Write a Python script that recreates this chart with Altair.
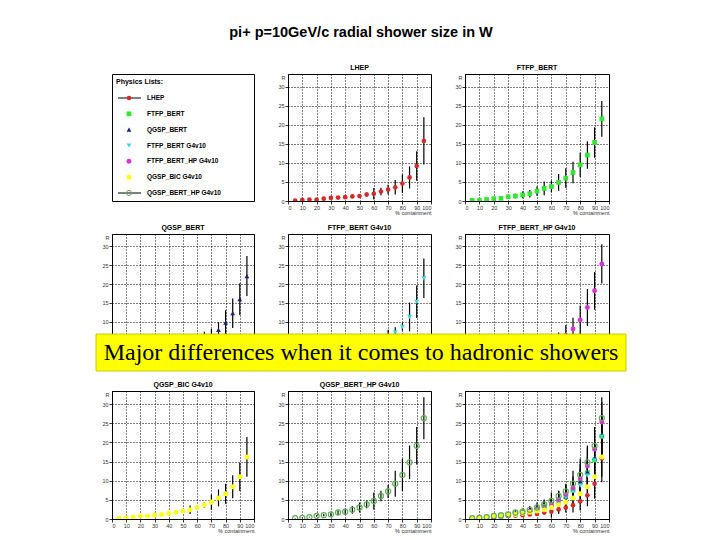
import altair as alt
import pandas as pd

# ---------------- data ----------------
containment = [5, 10, 15, 20, 25, 30, 35, 40, 45, 50, 55, 60, 65, 70, 75, 80, 85, 90, 95]

series_names = ["LHEP", "FTFP_BERT", "QGSP_BERT", "FTFP_BERT G4v10",
                "FTFP_BERT_HP G4v10", "QGSP_BIC G4v10", "QGSP_BERT_HP G4v10"]
series_colors = ["#d42a2a", "#33e633", "#1c237f", "#3ad8dc", "#d435d4", "#ffff1a", "#5fae57"]
series_shapes = ["circle", "square", "triangle-up", "triangle-down", "circle", "circle", "circle"]
series_sizes = [48, 52, 26, 48, 48, 80, 58]
legend_sizes = [22, 26, 14, 24, 22, 30, 26]
series_open = [False, False, False, False, False, False, True]
legend_line = [True, False, False, False, False, False, True]

lhep_r = [0.1, 0.3, 0.4, 0.4, 0.6, 0.8, 0.9, 1.0, 1.2, 1.3, 1.7, 1.9, 2.5, 3.0, 3.6, 4.6, 6.2, 9.2, 15.8]
lhep_err = [0.05, 0.1, 0.1, 0.1, 0.15, 0.2, 0.2, 0.3, 0.4, 0.5, 0.6, 1.5, 1.0, 1.3, 1.9, 2.4, 2.9, 3.9, 6.2]
ftfp_r = [0.2, 0.2, 0.4, 0.6, 0.7, 1.1, 1.3, 1.6, 1.9, 2.6, 3.3, 3.8, 4.9, 6.0, 7.5, 9.5, 12.1, 15.4, 21.6]
ftfp_err = [0.05, 0.1, 0.1, 0.2, 0.3, 0.4, 0.6, 0.9, 1.0, 1.2, 1.8, 1.5, 2.2, 2.6, 2.8, 3.2, 3.6, 4.0, 4.7]
qgsp_r = [0.2, 0.3, 0.4, 0.6, 0.8, 1.0, 1.3, 1.6, 2.0, 2.4, 3.0, 3.6, 4.4, 5.8, 7.9, 9.8, 12.3, 16.0, 22.1]
qgsp_err = [0.05, 0.1, 0.1, 0.2, 0.3, 0.4, 0.6, 0.8, 1.0, 1.2, 1.5, 1.8, 3.0, 2.3, 2.0, 3.3, 3.9, 4.2, 5.3]
ftfp10_r = [0.2, 0.3, 0.4, 0.6, 0.8, 1.0, 1.3, 1.6, 2.0, 2.4, 3.0, 3.6, 4.4, 5.6, 7.2, 8.7, 11.3, 15.3, 21.5]
ftfp10_err = [0.05, 0.1, 0.1, 0.2, 0.3, 0.4, 0.6, 0.8, 1.0, 1.2, 1.5, 1.8, 2.2, 2.3, 1.4, 1.0, 3.8, 4.3, 5.2]
ftfphp_r = [0.2, 0.3, 0.4, 0.6, 0.8, 1.0, 1.3, 1.6, 2.0, 2.5, 3.1, 3.9, 5.0, 6.4, 8.1, 10.5, 13.8, 18.2, 25.3]
ftfphp_err = [0.05, 0.1, 0.1, 0.2, 0.3, 0.4, 0.6, 0.8, 1.0, 1.2, 1.5, 1.8, 2.2, 2.8, 3.0, 3.8, 4.9, 5.0, 5.2]
bic_r = [0.2, 0.35, 0.5, 0.8, 0.8, 1.05, 1.2, 1.5, 1.75, 2.1, 2.4, 3.0, 3.7, 4.4, 5.5, 6.6, 8.4, 11.0, 16.2]
bic_err = [0.05, 0.05, 0.1, 0.1, 0.15, 0.2, 0.2, 0.3, 0.3, 0.4, 1.1, 0.5, 0.7, 2.0, 2.2, 2.6, 3.0, 3.7, 5.2]
berthp_r = [0.2, 0.3, 0.5, 0.8, 1.0, 1.2, 1.7, 1.9, 2.4, 3.0, 3.8, 4.7, 6.0, 7.2, 9.2, 11.5, 14.8, 19.1, 26.3]
berthp_err = [0.05, 0.1, 0.1, 0.2, 0.3, 0.4, 0.6, 0.8, 1.0, 1.3, 1.0, 2.2, 1.4, 1.7, 3.4, 4.2, 4.4, 4.9, 5.5]

main_title = "pi+ p=10GeV/c radial shower size in W"
banner_text = "Major differences when it comes to hadronic showers"
x_ticks = [0, 10, 20, 30, 40, 50, 60, 70, 80, 90, 100]
y_ticks_full = [0, 5, 10, 15, 20, 25, 30]
y_ticks_cut = [10, 15, 20, 25, 30]

values_by_series = dict(zip(series_names, [lhep_r, ftfp_r, qgsp_r, ftfp10_r, ftfphp_r, bic_r, berthp_r]))
errors_by_series = dict(zip(series_names, [lhep_err, ftfp_err, qgsp_err, ftfp10_err, ftfphp_err, bic_err, berthp_err]))

rows = []
for name, is_open in zip(series_names, series_open):
    for xv, rv, ev in zip(containment, values_by_series[name], errors_by_series[name]):
        rows.append({"series": name, "x": xv, "r": rv, "lo": rv - ev, "hi": rv + ev, "open": is_open})
df = pd.DataFrame(rows)

FONT = "Liberation Sans"
color_scale = alt.Scale(domain=series_names, range=series_colors)
shape_scale = alt.Scale(domain=series_names, range=series_shapes)
size_scale = alt.Scale(domain=series_names, range=series_sizes)
no_frame = alt.ViewBackground(stroke="transparent")


def panel(title, members, width, height, ydom, yvals, show_x=True):
    base = alt.Chart(df).transform_filter(alt.FieldOneOfPredicate(field="series", oneOf=members))
    if show_x:
        xax = alt.Axis(values=x_ticks, title="% containment", titleAnchor="end", titleAlign="right",
                       titlePadding=0, grid=True)
    else:
        xax = alt.Axis(values=x_ticks, labels=False, ticks=False, domain=False, title=None, grid=True)
    yax = alt.Axis(values=yvals, title="R", titleAngle=0, titleAlign="right", titleBaseline="top",
                   titleX=-3, titleY=1, grid=True)
    xenc = alt.X("x:Q", scale=alt.Scale(domain=[0, 100], nice=False, zero=False), axis=xax)
    yscale = alt.Scale(domain=ydom, nice=False, zero=False)
    rules = base.mark_rule(color="black", strokeWidth=1.2, clip=True).encode(
        x=xenc, y=alt.Y("lo:Q", scale=yscale, axis=yax), y2="hi:Q")
    enc = dict(
        x=xenc,
        y=alt.Y("r:Q", scale=yscale, axis=yax),
        color=alt.Color("series:N", scale=color_scale, legend=None),
        shape=alt.Shape("series:N", scale=shape_scale, legend=None),
        size=alt.Size("series:N", scale=size_scale, legend=None),
    )
    filled = base.transform_filter("!datum.open").mark_point(filled=True, opacity=1, clip=True).encode(**enc)
    hollow = base.transform_filter("datum.open").mark_point(filled=False, opacity=1, strokeWidth=1.2,
                                                            clip=True).encode(**enc)
    return alt.layer(rules, filled, hollow).properties(
        width=width, height=height,
        title=alt.TitleParams(title, fontSize=7, fontWeight="bold", font=FONT, offset=3))


def spacer(width, height):
    return alt.Chart(pd.DataFrame({"s": [0]})).mark_point(opacity=0).encode(
        x=alt.value(0), y=alt.value(0)).properties(width=width, height=height, view=no_frame)


# legend panel
legend_df = pd.DataFrame({"series": series_names, "line": legend_line, "open": series_open})
ly = alt.Y("series:N", scale=alt.Scale(type="point", domain=series_names, range=[24, 119], padding=0), axis=None)
lbase = alt.Chart(legend_df)
header = alt.Chart(pd.DataFrame({"t": ["Physics Lists:"]})).mark_text(
    align="left", baseline="middle", fontSize=7, fontWeight="bold", font=FONT).encode(
    x=alt.value(4), y=alt.value(8), text="t:N")
lrules = lbase.transform_filter("datum.line").mark_rule(color="black", strokeWidth=1).encode(
    x=alt.value(6), x2=alt.value(29), y=ly)
lenc = dict(
    x=alt.value(17), y=ly,
    color=alt.Color("series:N", scale=color_scale, legend=None),
    shape=alt.Shape("series:N", scale=shape_scale, legend=None),
    size=alt.Size("series:N", scale=alt.Scale(domain=series_names, range=legend_sizes), legend=None),
)
lfilled = lbase.transform_filter("!datum.open").mark_point(filled=True, opacity=1).encode(**lenc)
lhollow = lbase.transform_filter("datum.open").mark_point(filled=False, opacity=1, strokeWidth=1).encode(**lenc)
ltext = lbase.mark_text(align="left", baseline="middle", fontSize=6.5, fontWeight="bold", font=FONT).encode(
    x=alt.value(35), y=ly, text="series:N")
legend = alt.layer(header, lrules, lfilled, lhollow, ltext).properties(width=142, height=127)

full = [0, 33.4]
cut = [6.8, 33.2]

banner_df = pd.DataFrame({"label": [banner_text]})
banner = alt.layer(
    alt.Chart(banner_df).mark_rect(color="#ffff00", stroke="#b8b800", strokeWidth=0.8).encode(
        x=alt.value(-192), x2=alt.value(338), y=alt.value(0), y2=alt.value(37)),
    alt.Chart(banner_df).mark_text(font="Liberation Serif", fontSize=24, align="center",
                                   baseline="middle", color="black").encode(
        x=alt.value(73), y=alt.value(19), text="label:N"),
).properties(width=143, height=57, view=no_frame)

chart = alt.concat(
    legend,
    panel("LHEP", ["LHEP"], 143, 127, full, y_ticks_full),
    panel("FTFP_BERT", ["FTFP_BERT"], 144, 127, full, y_ticks_full),
    spacer(142, 33), spacer(143, 33), spacer(144, 33),
    panel("QGSP_BERT", ["QGSP_BERT"], 142, 100, cut, y_ticks_cut, show_x=False),
    panel("FTFP_BERT G4v10", ["FTFP_BERT G4v10"], 143, 100, cut, y_ticks_cut, show_x=False),
    panel("FTFP_BERT_HP G4v10", ["FTFP_BERT_HP G4v10"], 144, 100, cut, y_ticks_cut, show_x=False),
    spacer(142, 57), banner, spacer(144, 57),
    panel("QGSP_BIC G4v10", ["QGSP_BIC G4v10"], 142, 128, full, y_ticks_full),
    panel("QGSP_BERT_HP G4v10", ["QGSP_BERT_HP G4v10"], 143, 128, full, y_ticks_full),
    panel("", series_names, 144, 128, full, y_ticks_full),
    columns=3, spacing={"row": 0, "column": 34}, bounds="flush",
).properties(
    title=alt.TitleParams(main_title, fontSize=14.5, fontWeight="bold", font=FONT, anchor="middle",
                          offset=23, color="black"),
    padding={"left": 87, "top": 17, "right": 5, "bottom": 5},
    background="white",
).configure_view(
    stroke="black", strokeWidth=1
).configure_axis(
    labelFont=FONT, labelFontSize=5.5, labelColor="#333", labelPadding=1,
    tickSize=3, tickColor="black", tickWidth=0.8,
    domainColor="black", domainWidth=1,
    gridColor="black", gridDash=[1, 2], gridWidth=1, gridOpacity=1,
    titleFont=FONT, titleFontSize=5.5, titleFontWeight="normal", titleColor="#333",
)

chart.save("out.html", embed_options={"renderer": "svg", "actions": False})
